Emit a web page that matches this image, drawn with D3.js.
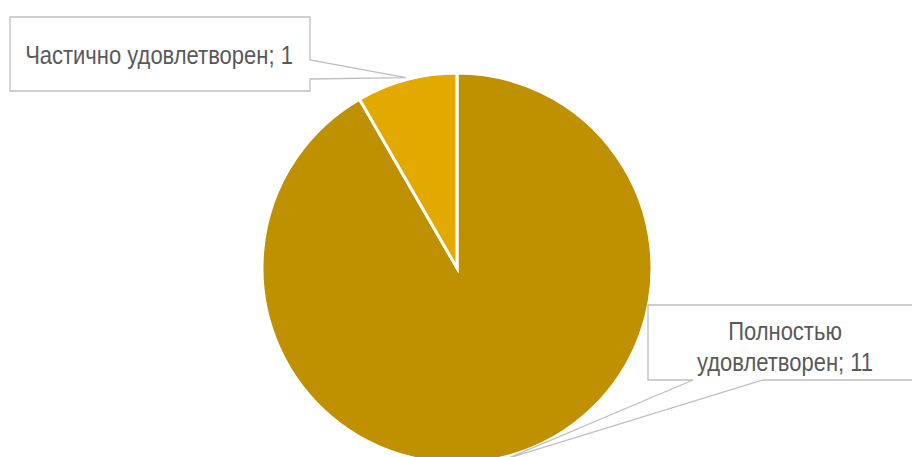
<!DOCTYPE html>
<html><head><meta charset="utf-8">
<script src="https://cdn.jsdelivr.net/npm/d3@7"></script>
<style>html,body{margin:0;padding:0;background:#fff;overflow:hidden}</style>
</head><body>
<svg id="chart" width="912" height="457"></svg>
<script>
const categories = ["Полностью удовлетворен", "Частично удовлетворен"];
const values = [11, 1];
const labelLines = [["Полностью", "удовлетворен; 11"], ["Частично удовлетворен; 1"]];
const colors = ["#BF9000", "#E2AA00"];

const svg = d3.select("#chart");
const cx = 457, cy = 268, R = 195;
const g = svg.append("g").attr("transform", `translate(${cx},${cy})`);

const pie = d3.pie().sort(null).value(d => d)(values);
const arc = d3.arc().innerRadius(0).outerRadius(R);

g.selectAll("path.slice").data(pie).join("path")
  .attr("class", "slice")
  .attr("d", arc)
  .attr("fill", (d, i) => colors[i])
  .attr("stroke", "#fff").attr("stroke-width", 3).attr("stroke-linejoin", "miter");

const tipArc = d3.arc().innerRadius(R + 2).outerRadius(R + 2);
const boxes = [
  {x: 648, y: 305, w: 276, h: 75, side: "bottom", b1: 45, b2: 115, base: 340},
  {x: 10, y: 17, w: 300, h: 74, side: "right", b1: 43, b2: 62, base: 64}
];

const lg = svg.append("g");
pie.forEach((d, i) => {
  const b = boxes[i];
  const c = tipArc.centroid(d);
  const tx = cx + c[0], ty = cy + c[1];
  let pts;
  if (b.side === "right") {
    pts = [[b.x, b.y], [b.x + b.w, b.y], [b.x + b.w, b.y + b.b1], [tx, ty], [b.x + b.w, b.y + b.b2], [b.x + b.w, b.y + b.h], [b.x, b.y + b.h]];
  } else {
    pts = [[b.x, b.y], [b.x + b.w, b.y], [b.x + b.w, b.y + b.h], [b.x + b.b2, b.y + b.h], [tx, ty], [b.x + b.b1, b.y + b.h], [b.x, b.y + b.h]];
  }
  lg.append("path")
    .attr("d", d3.line()(pts) + "Z")
    .attr("fill", "#fff").attr("stroke", "#BFBFBF").attr("stroke-width", 1.3);
  const lines = labelLines[i];
  const lh = 31;
  const midX = b.x + b.w / 2 - 1;
  lines.forEach((ln, k) => {
    svg.append("text")
      .attr("transform", `translate(${midX},${b.base + k * lh}) scale(0.88,1)`)
      .attr("text-anchor", "middle")
      .attr("font-family", "'Liberation Sans',Arial,sans-serif")
      .attr("font-size", 25)
      .attr("fill", "#595959")
      .text(ln);
  });
});
</script>
</body></html>
